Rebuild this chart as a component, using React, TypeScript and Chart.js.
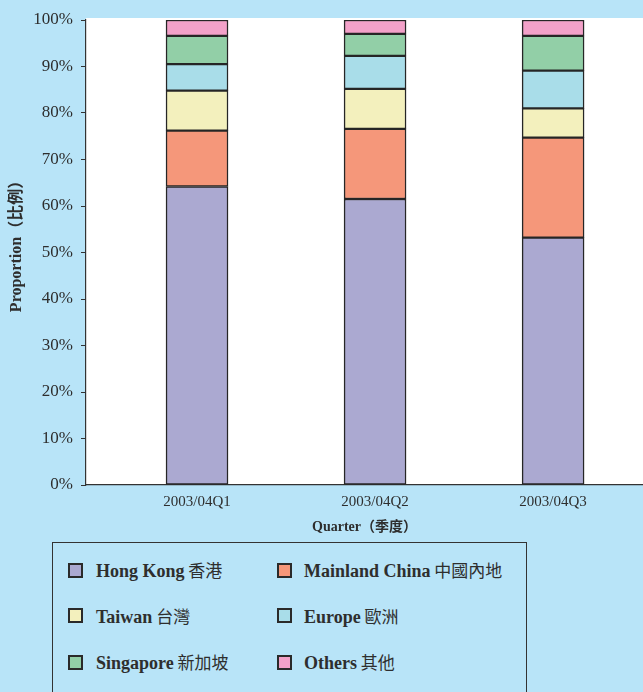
import React, { useEffect, useRef } from "react";
import { Chart, registerables } from "chart.js";

Chart.register(...registerables);

const categories = ["2003/04Q1", "2003/04Q2", "2003/04Q3"];
const hongKong = [64.2, 61.5, 53.2];
const mainlandChina = [12.0, 15.1, 21.5];
const taiwan = [8.6, 8.6, 6.3];
const europe = [5.7, 7.1, 8.1];
const singapore = [6.1, 4.7, 7.5];
const others = [3.4, 3.0, 3.4];

const seriesEn = ["Hong Kong", "Mainland China", "Taiwan", "Europe", "Singapore", "Others"];
const seriesZh = ["香港", "中國內地", "台灣", "歐洲", "新加坡", "其他"];
const seriesValues = [hongKong, mainlandChina, taiwan, europe, singapore, others];
const seriesColors = ["#aba9d1", "#f5977a", "#f3f0bd", "#a9dde9", "#92cfa7", "#f3a1c9"];

const yTicks = [0, 10, 20, 30, 40, 50, 60, 70, 80, 90, 100];

const BG = "#b8e4f8";
const SERIF = '"Liberation Serif", "Noto Sans CJK TC", serif';
const TEXT = "#2e2e2e";

const legendOrder = [0, 1, 2, 3, 4, 5];

export default function App() {
  const canvasRef = useRef<HTMLCanvasElement | null>(null);

  useEffect(() => {
    document.body.style.margin = "0";
    document.body.style.overflow = "hidden";
    const ctx = canvasRef.current;
    if (!ctx) return;

    const whiteArea = {
      id: "whiteArea",
      beforeDraw(chart: any) {
        const { ctx: c, chartArea } = chart;
        c.save();
        c.fillStyle = "#ffffff";
        c.fillRect(chartArea.left, chartArea.top - 2, chartArea.right - chartArea.left, chartArea.bottom - chartArea.top + 2);
        c.restore();
      },
    };

    const chart = new Chart(ctx, {
      type: "bar",
      data: {
        datasets: seriesValues.map((vals, i) => ({
          label: seriesEn[i] + " " + seriesZh[i],
          data: vals.map((v, j) => ({ x: j + 1, y: v })),
          backgroundColor: seriesColors[i],
          borderColor: "#262626",
          borderWidth: 1.5,
          borderSkipped: false,
          barThickness: 62,
        })),
      },
      options: {
        animation: false,
        responsive: false,
        maintainAspectRatio: false,
        layout: { padding: { top: 20, left: 0, right: 0, bottom: 0 } },
        plugins: {
          legend: { display: false },
          tooltip: { enabled: false },
        },
        scales: {
          x: {
            type: "linear",
            stacked: true,
            offset: false,
            min: 0.3764,
            max: 3.505,
            afterBuildTicks(scale: any) {
              scale.ticks = categories.map((_, i) => ({ value: i + 1 }));
            },
            afterFit(scale: any) {
              scale.height = 55;
            },
            grid: { display: false, drawTicks: false, offset: false },
            border: { display: true, color: "#333333", width: 1.2 },
            ticks: {
              padding: 8,
              color: TEXT,
              font: { family: SERIF, size: 15 },
              maxRotation: 0,
              autoSkip: false,
              callback: (v: any) => categories[Math.round(Number(v)) - 1] ?? "",
            },
            title: {
              display: true,
              text: "Quarter（季度）",
              color: TEXT,
              font: { family: SERIF, size: 14, weight: "bold" },
              padding: { top: 0, bottom: 4 },
            },
          },
          y: {
            stacked: true,
            min: 0,
            max: 100,
            afterBuildTicks(scale: any) {
              scale.ticks = yTicks.map((v) => ({ value: v }));
            },
            afterFit(scale: any) {
              scale.width = 86;
            },
            grid: { drawOnChartArea: false, drawTicks: true, tickLength: 5, color: "#333333" },
            border: { display: true, color: "#333333", width: 1.2 },
            ticks: {
              padding: 8,
              color: TEXT,
              font: { family: SERIF, size: 17 },
              callback: (v: any) => v + "%",
            },
            title: {
              display: true,
              text: "\u00A0\u00A0\u00A0\u00A0\u00A0Proportion（比例）",
              color: TEXT,
              font: { family: SERIF, size: 16, weight: "bold" },
              padding: { top: 7, bottom: 0 },
            },
          },
        },
      },
      plugins: [whiteArea],
    });

    return () => chart.destroy();
  }, []);

  const rowTops = [570, 615.5, 662];
  const swatchLeft = [68, 277];
  const textLeft = [96, 304];

  return (
    <div style={{ position: "relative", width: 643, height: 692, background: BG, overflow: "hidden" }}>
      <canvas ref={canvasRef} width={643} height={540} style={{ display: "block", width: 643, height: 540 }} />
      <div
        style={{
          position: "absolute",
          left: 52,
          top: 542,
          width: 475,
          height: 170,
          border: "1.5px solid #333",
          boxSizing: "border-box",
        }}
      />
      {legendOrder.map((idx) => {
        const row = Math.floor(idx / 2);
        const col = idx % 2;
        const cy = rowTops[row];
        return (
          <React.Fragment key={idx}>
            <div
              style={{
                position: "absolute",
                left: swatchLeft[col],
                top: cy - 7.5,
                width: 15,
                height: 15,
                boxSizing: "border-box",
                border: "2px solid #2a2a2a",
                background: seriesColors[idx],
              }}
            />
            <div
              style={{
                position: "absolute",
                left: textLeft[col],
                top: cy - 12,
                height: 24,
                lineHeight: "24px",
                whiteSpace: "nowrap",
                color: TEXT,
                fontFamily: SERIF,
              }}
            >
              <span style={{ fontWeight: "bold", fontSize: 18 }}>{seriesEn[idx]}</span>
              <span style={{ fontSize: 17, fontFamily: '"Noto Sans CJK TC", sans-serif' }}> {seriesZh[idx]}</span>
            </div>
          </React.Fragment>
        );
      })}
    </div>
  );
}
